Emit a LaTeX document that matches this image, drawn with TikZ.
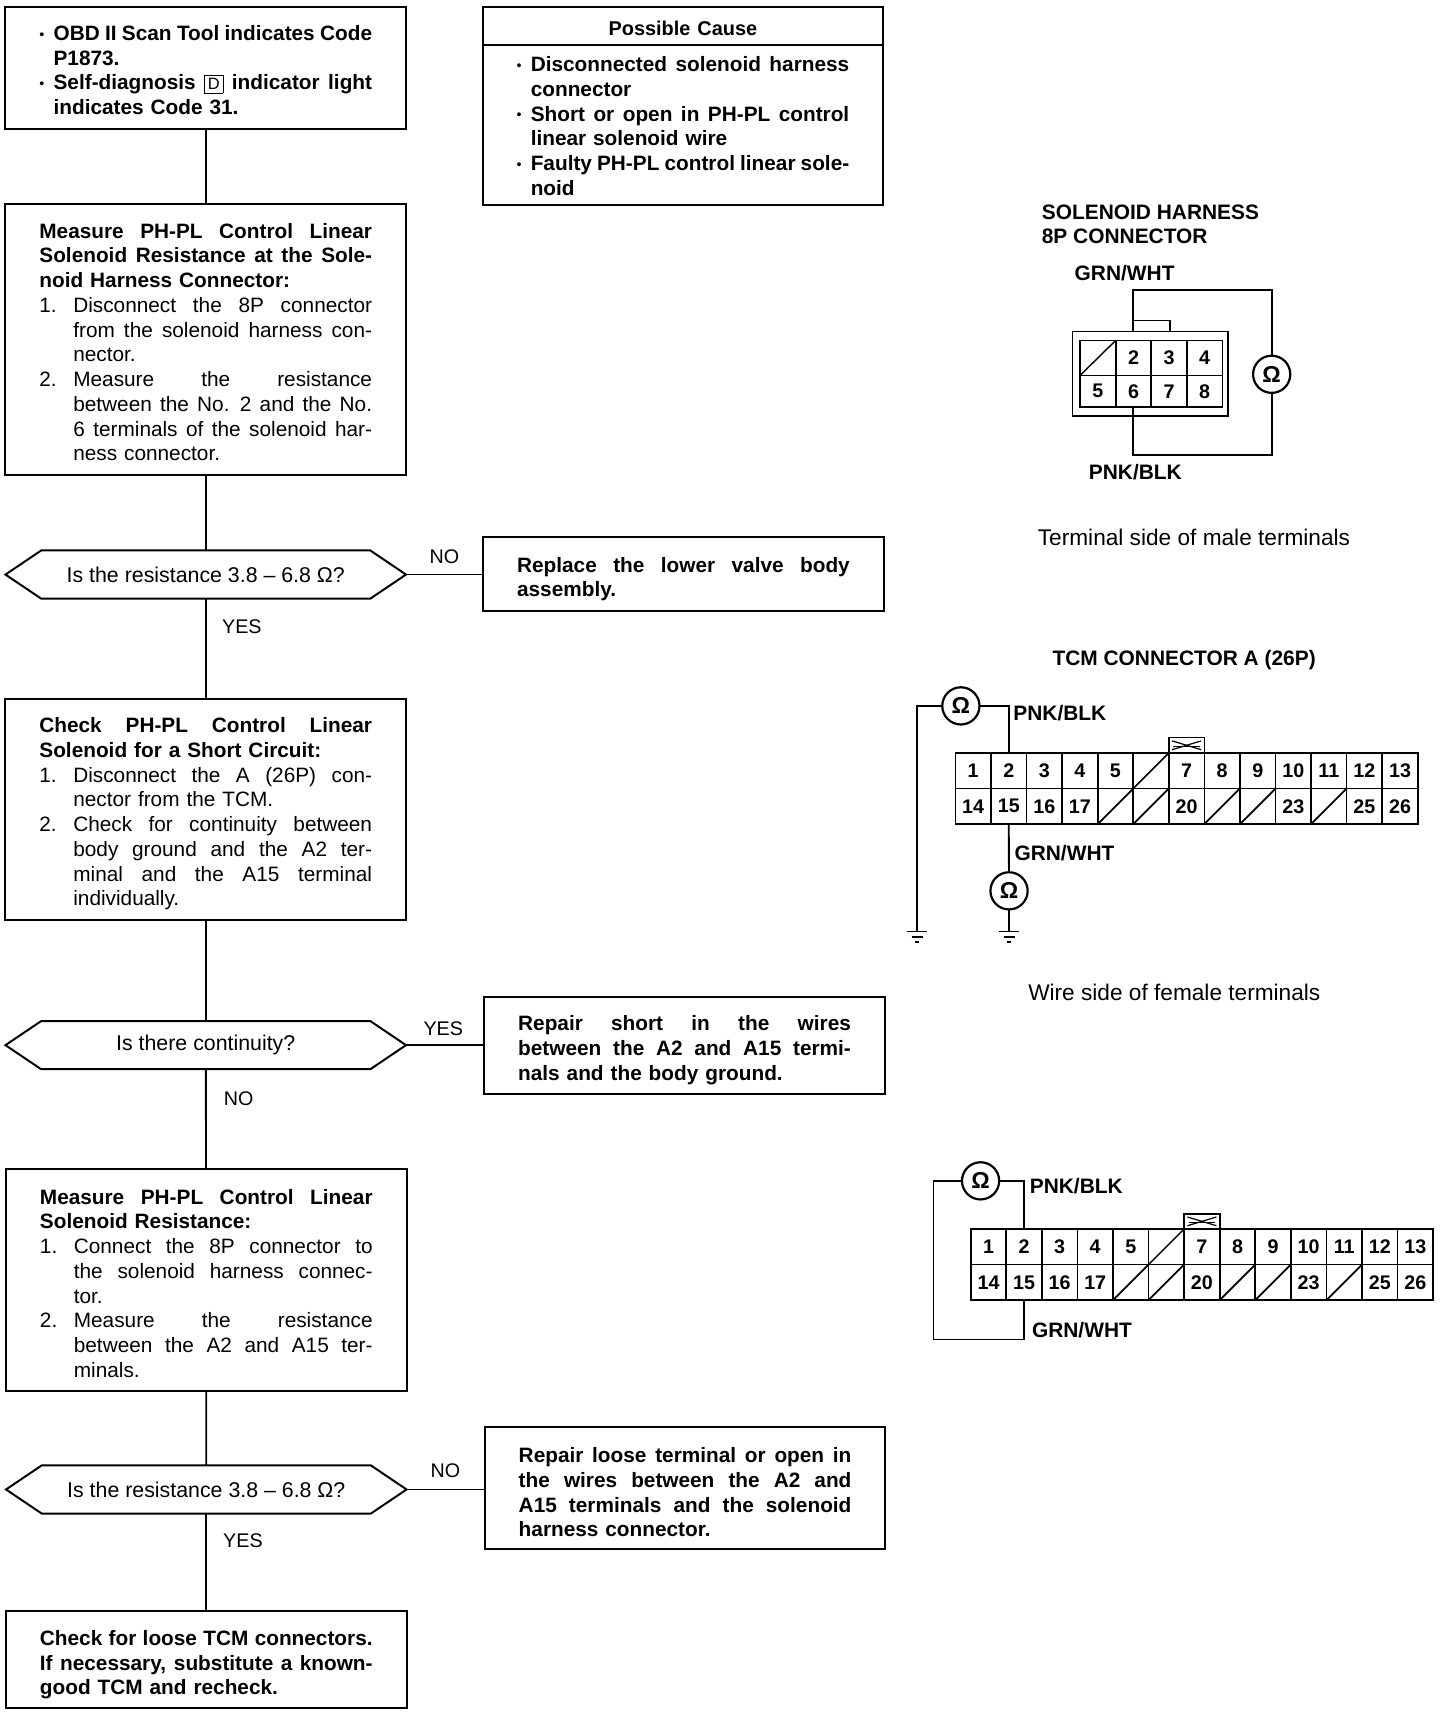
\documentclass[tikz,border=0pt]{standalone}
\usepackage{fontspec}
\setmainfont{Liberation Sans}
\usetikzlibrary{shapes.symbols,calc}
\newcommand\fitsp{\spaceskip=0.28em plus 1fil minus 0.1em\relax}
\newcommand\linj[1]{\leavevmode\hbox to 304pt{\fitsp #1}}
\newcommand\linl[1]{\leavevmode\hbox to 304pt{#1\hfil}}
\newcommand\numj[2]{\leavevmode\hbox to 31pt{#1\hfil}\hbox to 273pt{\fitsp #2}}
\newcommand\numl[2]{\leavevmode\hbox to 31pt{#1\hfil}\hbox to 273pt{#2\hfil}}
\newcommand\dotmark{\hbox to 13pt{\raisebox{1pt}{\fontsize{13}{13}\selectfont •}\hfil}}
\newcommand\bulj[1]{\leavevmode\dotmark\hbox to 291pt{\fitsp #1}}
\newcommand\bull[1]{\leavevmode\hbox to 13pt{\hfil}\hbox to 291pt{#1\hfil}}
\tikzset{
  every node/.style={inner sep=0pt,outer sep=0pt},
  nudge/.style={execute at begin node={\rule{0pt}{\dimexpr 14pt+#1pt\relax}}},
  stepbox/.style={draw,line width=1.8pt,text width=304pt,inner xsep=31pt,inner ysep=0pt,align=left,font=\fontsize{19}{22.6}\selectfont},
  askbox/.style={draw,line width=1.8pt,signal,signal to=west and east,signal pointer angle=68,minimum width=366pt,minimum height=44pt,font=\fontsize{19.5}{22}\selectfont},
  wire/.style={line width=1.7pt},
  flow/.style={line width=1.7pt},
  ansl/.style={font=\fontsize{18}{22}\selectfont},
  lab/.style={anchor=west,font=\fontsize{19.1}{23}\selectfont\bfseries},
  note/.style={font=\fontsize{20.7}{24}\selectfont},
  cell/.style={draw,line width=1.5pt,font=\fontsize{18}{20}\selectfont\bfseries},
  ohm/.style={circle,draw,line width=2pt,minimum size=34pt,font=\fontsize{21}{21}\selectfont\bfseries,fill=white},
  earthmark/.style={line width=1.5pt}
}
% prefix, x0, y top, row height
\newcommand\pinblock[4]{%
  \foreach \i/\t in {0/1,1/2,2/3,3/4,4/5,6/7,7/8,8/9,9/10,10/11,11/12,12/13}{
    \node[cell,minimum width=32.5pt,minimum height=#4pt] (#1\t) at ({#2+16.25+32.5*\i},{#3+#4/2}) {\t};}
  \foreach \i/\t in {0/14,1/15,2/16,3/17,6/20,9/23,11/25,12/26}{
    \node[cell,minimum width=32.5pt,minimum height=#4pt] (#1\t) at ({#2+16.25+32.5*\i},{#3+#4*1.5}) {\t};}
  \node[cell,minimum width=32.5pt,minimum height=#4pt] (#1u6) at ({#2+16.25+32.5*5},{#3+#4/2}) {};
  \draw[line width=1.4pt] (#1u6.south west) -- (#1u6.north east);
  \foreach \i/\t in {4/18,5/19,7/21,8/22,10/24}{
    \node[cell,minimum width=32.5pt,minimum height=#4pt] (#1\t) at ({#2+16.25+32.5*\i},{#3+#4*1.5}) {};
    \draw[line width=1.6pt] (#1\t.south west) -- (#1\t.north east);}
  \node[draw,line width=1.5pt,minimum width=32.5pt,minimum height=14pt,anchor=south] (#1tab) at (#17.north) {};
  \draw[line width=1.1pt] ($(#1tab.north west)+(3,3)$) -- ($(#1tab.south east)+(-3,-3)$);
  \draw[line width=1.1pt] ($(#1tab.south west)+(3,-3)$) -- ($(#1tab.north east)+(-3,3)$);
  \draw[line width=1.4pt] (#1tab.west) ++(4,1) -- ++(24.5,0);
}
\newcommand\earth[1]{%
  \draw[earthmark] ($(#1)+(-9,0)$) -- ($(#1)+(9,0)$);
  \draw[earthmark] ($(#1)+(-5,5)$) -- ($(#1)+(5,5)$);
  \draw[earthmark] ($(#1)+(-2,10)$) -- ($(#1)+(2,10)$);
}
\begin{document}
\begin{tikzpicture}[x=1pt,y=-1pt]
\useasboundingbox (0,0) rectangle (1330.4,1568);
% flow column
\node[stepbox,minimum height=112pt,nudge=4] (b1) at (188,62) {%
\bulj{\bfseries OBD II Scan Tool indicates Code}\\
\bull{\bfseries P1873.}\\
\bulj{\bfseries Self-diagnosis \fbox{\setlength{\fboxsep}{1pt}\fontsize{15}{15}\selectfont\mdseries D} indicator light}\\
\bull{\bfseries indicates Code 31.}};
\node[stepbox,minimum height=248pt,nudge=5] (b2) at (188,310) {%
\linj{\bfseries Measure PH-PL Control Linear}\\
\linj{\bfseries Solenoid Resistance at the Sole-}\\
\linl{\bfseries noid Harness Connector:}\\
\numj{1.}{Disconnect the 8P connector}\\
\numj{}{from the solenoid harness con-}\\
\numl{}{nector.}\\
\numj{2.}{Measure the resistance}\\
\numj{}{between the No. 2 and the No.}\\
\numj{}{6 terminals of the solenoid har-}\\
\numl{}{ness connector.}};
\node[askbox] (d1) at (188,525) {\raisebox{-1pt}{Is the resistance 3.8 – 6.8 Ω?}};
\node[stepbox,minimum height=202pt,nudge=7] (b3) at (188,740) {%
\linj{\bfseries Check PH-PL Control Linear}\\
\linl{\bfseries Solenoid for a Short Circuit:}\\
\numj{1.}{Disconnect the A (26P) con-}\\
\numl{}{nector from the TCM.}\\
\numj{2.}{Check for continuity between}\\
\numj{}{body ground and the A2 ter-}\\
\numj{}{minal and the A15 terminal}\\
\numl{}{individually.}};
\node[askbox] (d2) at (188,955) {\raisebox{-2pt}{Is there continuity?}};
\node[stepbox,minimum height=203pt,nudge=6] (b4) at (188.5,1169.5) {%
\linj{\bfseries Measure PH-PL Control Linear}\\
\linl{\bfseries Solenoid Resistance:}\\
\numj{1.}{Connect the 8P connector to}\\
\numj{}{the solenoid harness connec-}\\
\numl{}{tor.}\\
\numj{2.}{Measure the resistance}\\
\numj{}{between the A2 and A15 ter-}\\
\numl{}{minals.}};
\node[askbox] (d3) at (188.5,1361) {\raisebox{-1pt}{Is the resistance 3.8 – 6.8 Ω?}};
\node[stepbox,minimum height=89pt,nudge=9] (b5) at (188.5,1516.5) {%
\linj{\bfseries Check for loose TCM connectors.}\\
\linj{\bfseries If necessary, substitute a known-}\\
\linl{\bfseries good TCM and recheck.}};
% right column
\node[stepbox,minimum height=35pt,align=center,inner xsep=31pt,nudge=4] (pt) at (624,23.5) {\fontsize{18.2}{22}\selectfont\bfseries Possible Cause};
\node[stepbox,minimum height=146pt,nudge=2] (pc) at (624,114) {%
\bulj{\bfseries Disconnected solenoid harness}\\
\bull{\bfseries connector}\\
\bulj{\bfseries Short or open in PH-PL control}\\
\bull{\bfseries linear solenoid wire}\\
\bulj{\bfseries Faulty PH-PL control linear sole-}\\
\bull{\bfseries noid}};
\node[stepbox,minimum height=67pt,nudge=9] (r1) at (624.5,524.5) {%
\linj{\bfseries Replace the lower valve body}\\
\linl{\bfseries assembly.}};
\node[stepbox,minimum height=89pt,nudge=8] (r2) at (625.5,955.5) {%
\linj{\bfseries Repair short in the wires}\\
\linj{\bfseries between the A2 and A15 termi-}\\
\linl{\bfseries nals and the body ground.}};
\node[stepbox,minimum height=111pt,nudge=8] (r3) at (626,1359.5) {%
\linj{\bfseries Repair loose terminal or open in}\\
\linj{\bfseries the wires between the A2 and}\\
\linj{\bfseries A15 terminals and the solenoid}\\
\linl{\bfseries harness connector.}};
% flow connectors
\draw[flow] (b1) -- (b2);
\draw[flow] (b2) -- (d1);
\draw[flow] (d1) -- (b3);
\draw[flow] (b3) -- (d2);
\draw[flow] (d2) -- (b4);
\draw[flow] (b4) -- (d3);
\draw[flow] (d3) -- (b5);
\draw[flow] (d1.east) -- (d1.east -| r1.west);
\draw[flow] (d2.east) -- (d2.east -| r2.west);
\draw[flow] (d3.east) -- (d3.east -| r3.west);
\node[ansl] (a1) at (406,509) {NO};
\node[ansl] (a2) at (221,573) {YES};
\node[ansl] (a3) at (405,940) {YES};
\node[ansl] (a4) at (218,1004) {NO};
\node[ansl] (a5) at (407,1344) {NO};
\node[ansl] (a6) at (222,1408) {YES};
% 8P connector
\node[lab] (s0) at (952,194) {SOLENOID HARNESS};
\node[lab] (s00) at (952,216) {8P CONNECTOR};
\node[lab] (sg) at (982,250) {GRN/WHT};
\node[lab] (sp) at (995,431) {PNK/BLK};
\node[note] (sn) at (1091,491) {Terminal side of male terminals};
\node[draw,line width=1.5pt,minimum width=142pt,minimum height=77pt] (hs) at (1051,341.5) {};
\foreach \i/\t in {1/2,2/3,3/4}{
  \node[cell,minimum width=32.5pt,minimum height=32pt] (s\t) at ({987+16.25+32.5*\i},327) {\t};}
\node[cell,minimum width=32.5pt,minimum height=32pt] (su) at (1003.25,327) {};
\draw[line width=1.3pt] (su.south west) -- (su.north east);
\foreach \i/\t in {0/5,1/6,2/7,3/8}{
  \node[cell,minimum width=32.5pt,minimum height=29pt] (s\t) at ({987+16.25+32.5*\i},357.5) {\t};}
\node[draw,line width=1.5pt,minimum width=34pt,minimum height=10pt] (stab) at (1052,298) {};
\node[ohm] (so) at (1162,342) {Ω};
\coordinate (stop) at (1162,265);
\coordinate (sbot) at (1162,416);
\draw[wire] (stab.south west) -- (stab.south west |- stop) -- (stop) -- (so);
\draw[wire] (s6.south -| stab.south west) -- (stab.south west |- sbot) -- (sbot) -- (so);
% 26P connector A
\node[lab,anchor=center] (t0) at (1082,603) {TCM CONNECTOR A (26P)};
\pinblock{p}{873}{688}{32.5}
\node[ohm] (po) at (878,645) {Ω};
\coordinate (pl) at (838,645);
\coordinate (pe1) at (838,851);
\coordinate (pe2) at (922,851);
\node[lab] (pa) at (926,652) {PNK/BLK};
\node[lab] (pb) at (927,780) {GRN/WHT};
\node[ohm] (pq) at (922,814) {Ω};
\draw[wire] (po.west) -- (pl) -- (pe1);
\draw[wire] (po.east) -| (p2.north);
\draw[wire] (p15.south) -- (pq);
\draw[wire] (pq) -- (pe2);
\earth{pe1}
\earth{pe2}
\node[note] (pn) at (1073,907) {Wire side of female terminals};
% 26P connector, second view
\pinblock{q}{887}{1123}{32.5}
\node[ohm] (qo) at (896,1079) {Ω};
\coordinate (ql) at (853,1079);
\coordinate (qb) at (853,1224);
\node[lab] (qa) at (941,1084) {PNK/BLK};
\node[lab] (qc) at (943,1215) {GRN/WHT};
\draw[wire] (qo.east) -| (q2.north);
\draw[wire] (qo.west) -- (ql) -- (qb) -| (q15.south);
\end{tikzpicture}
\end{document}
